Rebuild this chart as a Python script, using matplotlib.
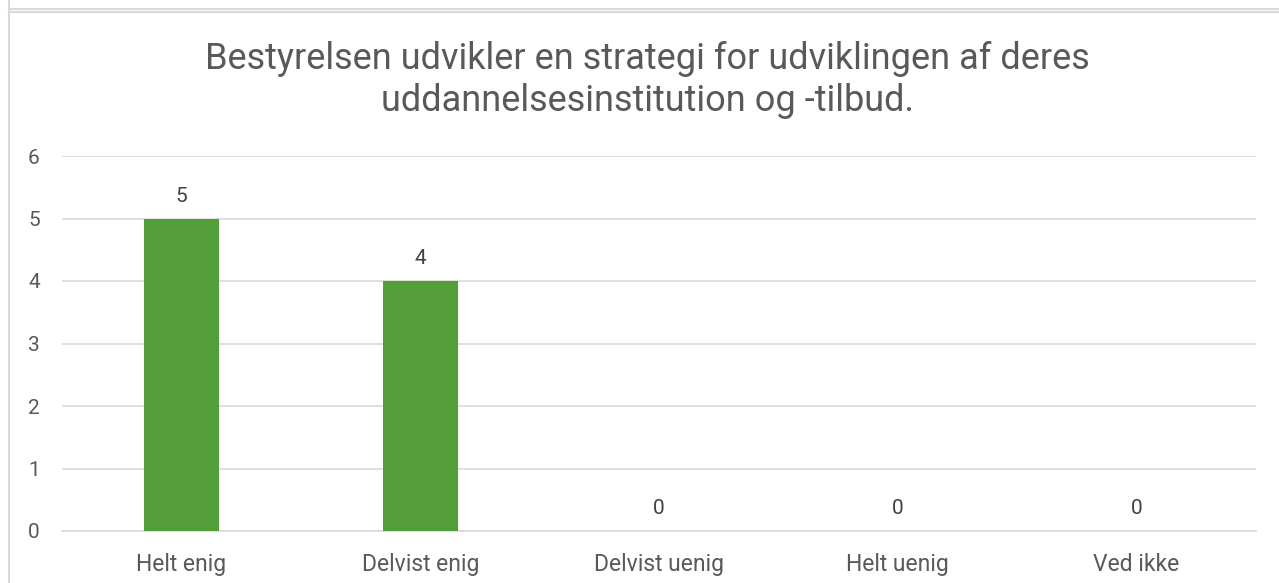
import matplotlib.pyplot as plt
from matplotlib.lines import Line2D

categories = ["Helt enig", "Delvist enig", "Delvist uenig", "Helt uenig", "Ved ikke"]
values = [5, 4, 0, 0, 0]
yticks = [0, 1, 2, 3, 4, 5, 6]
title = "Bestyrelsen udvikler en strategi for udviklingen af deres\nuddannelsesinstitution og -tilbud."

plt.rcParams['font.family'] = ['Roboto', 'DejaVu Sans']

fig = plt.figure(figsize=(12.79, 5.83), dpi=100)
ax = fig.add_axes([62 / 1279, 52 / 583, (1256 - 62) / 1279, (531 - 156) / 583])

x = range(len(categories))
bars = ax.bar(x, values, width=0.315, color='#549e39', zorder=3)
for xi, v in zip(x, values):
    ax.text(xi, v + 0.2, str(v), ha='center', va='bottom', fontsize=15, color='#404040')

ax.set_xlim(-0.5, len(categories) - 0.5)
ax.set_ylim(0, 6)
ax.set_yticks(yticks)
ax.set_xticks(list(x))
ax.set_xticklabels(categories, fontsize=16.5)
ax.tick_params(axis='both', length=0, labelcolor='#595959')
ax.tick_params(axis='y', labelsize=15, pad=16)
ax.tick_params(axis='x', pad=16)
ax.yaxis.grid(True, color='#d9d9d9', linewidth=1.2, zorder=0)
for s in ['top', 'right', 'left']:
    ax.spines[s].set_visible(False)
ax.spines['bottom'].set_color('#d9d9d9')
ax.spines['bottom'].set_linewidth(1.2)

fig.text(647 / 1279, 1 - 80 / 583, title, ha='center', va='center', fontsize=26,
         color='#595959', linespacing=1.22)

# frame borders
W, H = 1279, 583
fig.add_artist(Line2D([9 / W, 9 / W], [0, 1], transform=fig.transFigure, color='#d9d9d9', lw=1.5))
fig.add_artist(Line2D([9 / W, 1], [1 - 8.5 / H, 1 - 8.5 / H], transform=fig.transFigure, color='#d9d9d9', lw=1.5))
fig.add_artist(Line2D([9 / W, 1], [1 - 11.5 / H, 1 - 11.5 / H], transform=fig.transFigure, color='#d9d9d9', lw=1.5))

fig.savefig("out.png", dpi=100)
